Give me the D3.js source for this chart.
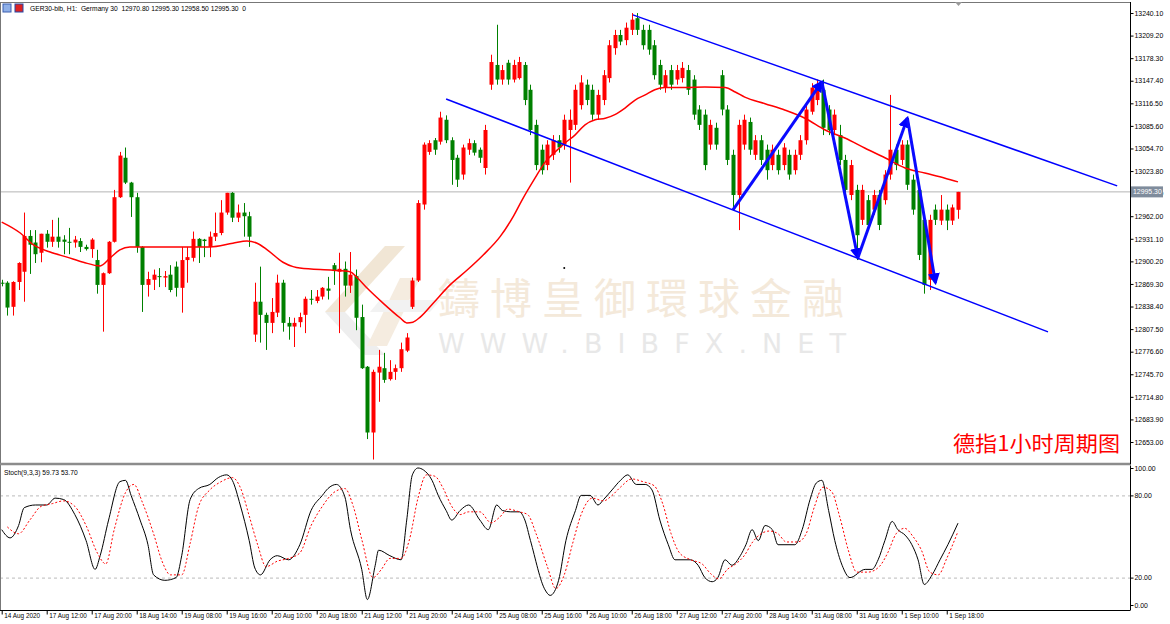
<!DOCTYPE html>
<html>
<head>
<meta charset="utf-8">
<script src="https://cdn.jsdelivr.net/npm/d3@7"></script>
<style>
body { margin: 0; background: #fff; }
svg { display: block; font-family: "Liberation Sans", Arial, sans-serif; }
</style>
</head>
<body>
<svg width="1170" height="624"></svg>
<script>
// H1 candles, [open, high, low, close], bar 0 = 14 Aug 2020
const candles = [
  [12871,12875,12866,12870],[12871,12873,12826,12837],[12838,12873,12826,12872],[12872,12899,12861,12898],[12886,12967,12845,12935],
  [12935,12943,12883,12923],[12926,12943,12898,12910],[12912,12938,12899,12938],[12938,12943,12919,12927],[12927,12957,12920,12934],
  [12934,12960,12919,12927],[12930,12936,12910,12927],[12927,12946,12910,12926],[12926,12935,12919,12930],[12928,12932,12913,12920],
  [12920,12923,12915,12917],[12917,12932,12905,12930],[12902,12916,12856,12868],[12868,12885,12804,12884],[12884,12928,12883,12927],
  [12927,12998,12926,12988],[12988,13050,12987,13045],[13042,13056,13006,13008],[13008,13009,12961,12988],[12988,12994,12912,12920],
  [12920,12921,12831,12868],[12868,12886,12852,12876],[12875,12889,12861,12882],[12880,12891,12865,12879],[12878,12887,12865,12880],
  [12882,12895,12858,12861],[12893,12900,12852,12864],[12864,12920,12830,12902],[12902,12920,12871,12906],[12905,12941,12900,12931],
  [12931,12932,12898,12920],[12930,12931,12906,12928],[12920,12941,12906,12934],[12934,12967,12928,12939],[12939,12984,12936,12967],
  [12967,12994,12964,12994],[12994,12995,12954,12960],[12960,12978,12954,12967],[12967,12980,12934,12962],[12962,12968,12920,12934],
  [12800,12871,12790,12845],[12845,12893,12789,12827],[12827,12830,12779,12816],[12816,12850,12802,12831],[12830,12882,12824,12871],
  [12871,12875,12804,12816],[12816,12824,12793,12811],[12811,12823,12783,12816],[12817,12830,12810,12824],[12827,12852,12802,12849],
  [12849,12861,12841,12848],[12846,12861,12843,12852],[12852,12865,12848,12864],[12863,12879,12848,12860],[12895,12898,12868,12887],
  [12886,12912,12802,12890],[12890,12900,12852,12867],[12867,12913,12857,12882],[12880,12889,12806,12823],[12824,12841,12753,12754],
  [12756,12757,12657,12666],[12666,12752,12629,12749],[12748,12779,12708,12756],[12754,12775,12734,12738],[12739,12765,12737,12749],
  [12749,12759,12738,12754],[12754,12789,12749,12780],[12778,12802,12776,12796],[12838,12878,12835,12874],[12874,12984,12872,12980],
  [12978,13063,12971,13060],[13050,13066,13046,13062],[13066,13069,13046,13053],[13064,13105,13060,13097],[13094,13100,13062,13066],
  [13066,13070,13005,13039],[13042,13046,13002,13012],[13019,13060,13012,13056],[13053,13068,13046,13062],[13062,13066,13045,13049],
  [13053,13056,13035,13042],[13028,13087,13019,13080],[13142,13183,13135,13173],[13169,13224,13142,13149],[13149,13169,13142,13162],
  [13172,13176,13142,13149],[13149,13176,13145,13169],[13151,13180,13149,13173],[13169,13173,13114,13121],[13135,13142,13073,13080],
  [13087,13094,13025,13032],[13053,13060,13019,13025],[13032,13066,13025,13060],[13046,13073,13039,13066],[13066,13073,13049,13056],
  [13060,13101,13053,13094],[13080,13108,13008,13094],[13087,13142,13080,13135],[13114,13155,13108,13145],[13142,13149,13114,13121],
  [13135,13142,13094,13101],[13101,13135,13094,13128],[13121,13162,13114,13155],[13151,13203,13145,13196],[13192,13217,13183,13210],
  [13210,13217,13196,13201],[13203,13227,13196,13220],[13217,13240,13210,13231],[13233,13240,13210,13217],[13217,13224,13190,13196],
  [13217,13224,13183,13190],[13196,13203,13149,13155],[13169,13176,13135,13142],[13138,13162,13131,13155],[13162,13169,13135,13142],
  [13149,13169,13142,13162],[13151,13173,13145,13165],[13162,13169,13128,13135],[13149,13155,13094,13101],[13108,13114,13080,13087],
  [13101,13108,13025,13032],[13060,13094,13053,13087],[13083,13090,13053,13060],[13155,13162,13100,13108],[13108,13114,13032,13039],
  [13046,13053,12971,12991],[12991,13094,12943,13087],[13060,13101,13053,13094],[13091,13097,13046,13053],[13046,13073,13039,13066],
  [13066,13073,13032,13039],[13053,13060,13012,13025],[13032,13060,13025,13053],[13046,13053,13019,13025],[13032,13062,13025,13056],
  [13046,13053,13012,13019],[13025,13053,13019,13046],[13046,13073,13039,13066],[13066,13114,13060,13108],[13105,13144,13101,13138],
  [13121,13149,13114,13142],[13135,13149,13073,13083],[13108,13114,13073,13080],[13080,13108,13073,13101],[13073,13087,13032,13039],
  [13039,13046,12991,12998],[12991,13039,12984,13032],[12998,13005,12902,12936],[12957,13005,12950,12998],[12984,12991,12943,12950],
  [12971,12998,12964,12991],[12991,12998,12943,12950],[12984,13025,12978,13019],[13019,13128,13012,13053],[13053,13060,13025,13032],
  [13039,13066,13032,13060],[13060,13066,12998,13005],[13012,13019,12964,12971],[12998,13005,12902,12909],[12957,12964,12856,12868],
  [12875,12964,12861,12957],[12971,12978,12950,12957],[12956,12991,12950,12971],[12971,12978,12943,12956],[12956,12978,12950,12974],
  [12970.8,12995.3,12958.5,12995.3]
]

// moving average: [bar, price]
const maLine = [
  [0,12954],[3.3,12939],[5.6,12923],[8.6,12913],[11.6,12906],[14.5,12899],[17.5,12894],[19.3,12905],[21,12916],[22.8,12920],
  [26.4,12920],[31.7,12920],[37,12920],[41.1,12925],[43.6,12928],[45.4,12925],[47.2,12916],[50,12899],[51.8,12893],[53,12891],
  [58.9,12888],[61.9,12886],[63.3,12877],[64.9,12864],[67.8,12843],[70.8,12823],[72,12816],[73.1,12817],[74.4,12824],[76.7,12843],
  [79.7,12868],[82.7,12888],[85.6,12909],[88.6,12934],[90.9,12961],[92.5,12984],[94.8,13014],[96.6,13036],[98.4,13050],[100.1,13062],
  [101.9,13073],[103.7,13087],[105.5,13094],[107.3,13096],[109,13101],[110.8,13110],[112.6,13121],[114.4,13128],[116.1,13135],[117.9,13138],
  [121.5,13138],[125,13139],[128.6,13138],[130.4,13132],[132.1,13125],[135.7,13116],[139.3,13107],[142.8,13096],[146.4,13080],[149.9,13069],
  [153.5,13055],[157,13042],[160.6,13028],[164.1,13021],[167.7,13014],[170,13009]
]

// Stoch(9,3,3): [bar, value]
const stochK = [
  [0,55],[1.5,49],[3,58],[4,71],[6,73],[8,73],[9.5,78],[11,77],[13,66],[15,47],[16.6,26],[17.5,36],[19,62],[21,90],[22,91],
  [23,80],[24.6,62],[26,44],[27,22],[29,18],[31,20],[32,36],[33.5,77],[35,85],[37,88],[38.5,93],[40,95],[41,91],[42.4,73],[44,47],
  [45,27],[46,22],[47.7,33],[49,36],[51,33],[53,44],[55,69],[57,80],[58,85],[59.5,88],[61,79],[62,55],[64,26],[65,4],[66.4,29],
  [67,40],[69,36],[71,33],[72,62],[73,95],[74,100],[75,98.5],[76.5,91],[77.6,80],[79,69],[80,62],[81.5,69],[83,73],[85,62],[86.5,55],
  [88,73],[89,69],[90.5,68],[92,68],[93,62],[94,47],[96.6,11],[97.5,7],[99,18],[100.3,47],[102,69],[103,80],[104.6,80],[106,73],
  [107,77],[108.5,84],[110,91],[111.3,95],[112.8,88],[114.4,88],[115.6,84],[117,62],[118.5,44],[119.7,33],[122.4,33],[123.8,29],
  [125,20],[126.3,17],[127.3,20],[128.6,33],[129.8,29],[131.3,36],[132.3,44],[133.4,55],[134.5,47],[135.7,58],[137,55],[138,44],
  [141,44],[142.3,55],[143.7,77],[144.8,89],[145.8,91],[147,69],[148.1,47],[149.4,29],[150.8,20],[153.5,26],[154.7,26],[155.8,33],
  [157,47],[158.3,61],[159.3,55],[160.6,51],[161.8,44],[162.9,33],[164,15],[165.4,22],[166.8,33],[168.2,44],[170,59.73]
]
const stochD = [
  [1,57],[3,52],[5,62],[7,72],[9,74],[11,76],[13,72],[15,58],[17,38],[18.5,30],[20,55],[22,82],[23.5,88],[25,75],[27,52],
  [28.5,32],[30,22],[32,22],[33.5,45],[35,72],[37,84],[39,90],[41,93],[42.5,85],[44,65],[45.5,44],[47,28],[49,32],[51,34],[53,38],
  [55,58],[57,72],[59,82],[61,85],[62.5,72],[64,48],[66,20],[67.5,26],[69,34],[71,34],[72.5,48],[74,78],[75.5,95],[77,94],[78.5,85],
  [80,72],[81.5,66],[83,68],[85,68],[87,60],[88.5,64],[90,70],[92,68],[93.5,66],[95,52],[97,28],[98.5,12],[100,22],[101.5,45],[103,66],
  [105,78],[107,76],[108.5,80],[110,86],[112,92],[114,90],[116,87],[117.5,74],[119,52],[120.5,38],[122.5,33],[124.5,30],[126,23],[127.5,19],
  [129,26],[130.5,30],[132,36],[133.5,46],[135,52],[136.5,54],[138,52],[139.5,46],[141.5,46],[143,52],[144.5,72],[146,86],[147.5,83],[149,64],
  [150.5,40],[152,24],[154,24],[156,28],[157.5,38],[159,52],[160.5,56],[162,50],[163.5,40],[165,24],[166.5,22],[168,34],[170,53.7]
]

const priceTicks = [13240.1,13209.2,13178.3,13147.4,13116.5,13085.6,13054.7,13023.8,12992.9,12962.0,
  12931.1,12900.2,12869.3,12838.4,12807.5,12776.6,12745.7,12714.8,12683.9,12653.0]
const stochTicks = [100, 80, 20, 0]
const stochLevels = [80, 20]
const dateLabels = ['14 Aug 2020','17 Aug 12:00','17 Aug 20:00','18 Aug 14:00','19 Aug 08:00','19 Aug 16:00','20 Aug 10:00',
  '20 Aug 18:00','21 Aug 12:00','21 Aug 20:00','24 Aug 14:00','25 Aug 08:00','25 Aug 16:00','26 Aug 10:00','26 Aug 18:00',
  '27 Aug 12:00','27 Aug 20:00','28 Aug 14:00','31 Aug 08:00','31 Aug 16:00','1 Sep 10:00','1 Sep 18:00']
const barsPerLabel = 8
const lastPrice = 12995.3

// hand-drawn objects: [bar, price]
const channelUpper = [[112.2,13237.5],[198.3,13003.5]]
const channelLower = [[79,13122.5],[186,12803.7]]
const zigzag = [[130,12970.6],[145.8,13145.8],[152.2,12905],[161,13096.5],[166,12870.7]]

const svg = d3.select('svg')
const axisX = 1130
const mainTop = 2, mainBottom = 464, stTop = 466, stBottom = 610
const small = 6.7

const x = d3.scaleLinear().domain([0, 170]).range([1.7, 958])
const y = d3.scaleLinear().domain([12653, 13240.1]).range([442, 13])
const ys = d3.scaleLinear().domain([0, 100]).range([605, 468])

const up = '#ff0000', down = '#008000'

svg.append('defs').html(`
  <clipPath id="mainClip"><rect x="0" y="${mainTop}" width="${axisX}" height="${mainBottom - mainTop}"/></clipPath>
  <clipPath id="stClip"><rect x="0" y="${stTop}" width="${axisX}" height="${stBottom - stTop}"/></clipPath>
  <marker id="arr" viewBox="0 0 10 10" refX="8" refY="5" markerWidth="4" markerHeight="4" orient="auto">
    <path d="M0,0 L10,5 L0,10 Z" fill="#0000ff"/>
  </marker>`)

// watermark
const wm = svg.append('g')
const logo = [
  {pts: [[385,246],[405,246],[345,312],[325,312]], fill: '#f1e6d5'},
  {pts: [[325,312],[345,312],[385,355],[365,355]], fill: '#eeeeee'},
  {pts: [[400,278],[420,278],[387,346],[367,346]], fill: '#f5ece0'},
  {pts: [[380,300],[440,300],[430,312],[370,312]], fill: '#f2f2f2'}
]
wm.selectAll('polygon').data(logo).enter().append('polygon')
  .attr('points', d => d.pts.join(' ')).attr('fill', d => d.fill)
wm.append('text').attr('x', 438).attr('y', 314).attr('textLength', 406).attr('lengthAdjust', 'spacing')
  .attr('font-family', '"Noto Sans CJK TC", "Noto Sans CJK SC", sans-serif').attr('font-size', 42)
  .attr('fill', '#f4e9da').text('鑄博皇御環球金融')
wm.append('text').attr('x', 438).attr('y', 353).attr('textLength', 408).attr('lengthAdjust', 'spacing')
  .attr('font-family', '"DejaVu Sans", sans-serif').attr('font-size', 27)
  .attr('fill', '#e8e8e8').text('WWW.BIBFX.NET')

const main = svg.append('g').attr('clip-path', 'url(#mainClip)')

// last price line
main.append('line').attr('x1', 0).attr('x2', axisX).attr('y1', y(lastPrice)).attr('y2', y(lastPrice))
  .attr('stroke', '#b4b4b4').attr('stroke-width', 1)

// candles
const cg = main.selectAll('.candle').data(candles).enter().append('g').attr('class', 'candle')
cg.append('line')
  .attr('x1', (d, i) => Math.round(x(i)) + 0.5).attr('x2', (d, i) => Math.round(x(i)) + 0.5)
  .attr('y1', d => y(d[1])).attr('y2', d => y(d[2]))
  .attr('stroke', d => d[3] >= d[0] ? up : down).attr('stroke-width', 1)
cg.append('rect')
  .attr('x', (d, i) => Math.round(x(i)) - 1.5).attr('width', 4)
  .attr('y', d => y(Math.max(d[0], d[3])))
  .attr('height', d => Math.max(1, Math.abs(y(d[0]) - y(d[3]))))
  .attr('fill', d => d[3] >= d[0] ? up : down)

// moving average
main.append('path').datum(maLine)
  .attr('d', d3.line().x(d => x(d[0])).y(d => y(d[1])).curve(d3.curveMonotoneX))
  .attr('fill', 'none').attr('stroke', '#ff0000').attr('stroke-width', 1.5)

// stray dot
main.append('circle').attr('cx', x(100)).attr('cy', y(12891)).attr('r', 1).attr('fill', '#000')

// channel + zigzag
const line = d3.line().x(d => x(d[0])).y(d => y(d[1]))
;[channelUpper, channelLower].forEach(c => {
  main.append('path').attr('d', line(c)).attr('stroke', '#0000ff').attr('stroke-width', 1.5).attr('fill', 'none')
})
d3.pairs(zigzag).forEach(p => {
  main.append('path').attr('d', line(p)).attr('stroke', '#0a0aff').attr('stroke-width', 3)
    .attr('fill', 'none').attr('marker-end', 'url(#arr)')
})

// caption
svg.append('text').attr('x', 953).attr('y', 451).attr('textLength', 167).attr('lengthAdjust', 'spacingAndGlyphs')
  .attr('font-family', '"Noto Sans CJK SC", sans-serif').attr('font-size', 21).attr('fill', '#ff0000')
  .text('德指1小时周期图')

// stochastic panel
const st = svg.append('g').attr('clip-path', 'url(#stClip)')
st.selectAll('.lvl').data(stochLevels).enter().append('line')
  .attr('x1', 0).attr('x2', axisX).attr('y1', d => ys(d) + 0.5).attr('y2', d => ys(d) + 0.5)
  .attr('stroke', '#bbbbbb').attr('stroke-dasharray', '3,3')
st.append('path').datum(stochK)
  .attr('d', d3.line().x(d => x(d[0])).y(d => ys(d[1])).curve(d3.curveMonotoneX))
  .attr('fill', 'none').attr('stroke', '#000').attr('stroke-width', 1)
st.append('path').datum(stochD)
  .attr('d', d3.line().x(d => x(d[0])).y(d => ys(d[1])).curve(d3.curveMonotoneX))
  .attr('fill', 'none').attr('stroke', '#ff0000').attr('stroke-width', 1).attr('stroke-dasharray', '2,2')
svg.append('text').attr('x', 4).attr('y', 475).attr('font-size', small).attr('fill', '#000')
  .text('Stoch(9,3,3) 59.73 53.70')

// frames
svg.append('rect').attr('x', 0.5).attr('y', mainTop + 0.5).attr('width', axisX).attr('height', stBottom - mainTop)
  .attr('fill', 'none').attr('stroke', '#777')
svg.append('line').attr('x1', 0).attr('x2', axisX).attr('y1', mainBottom).attr('y2', mainBottom)
  .attr('stroke', '#8c8c8c').attr('stroke-width', 2.5)
svg.append('line').attr('x1', 0).attr('x2', axisX).attr('y1', stBottom + 0.5).attr('y2', stBottom + 0.5)
  .attr('stroke', '#000')

// price axis
const pAxis = svg.append('g').attr('transform', `translate(${axisX + 0.5},0)`)
  .call(d3.axisRight(y).tickValues(priceTicks).tickSize(3).tickPadding(1).tickFormat(d3.format('.2f')))
pAxis.select('.domain').attr('stroke', '#000').attr('d', `M0,${mainTop}V${mainBottom}`)
pAxis.selectAll('text').attr('font-size', 6.9).attr('font-family', '"Liberation Sans", Arial, sans-serif').attr('fill', '#000')

// last price tag
svg.append('rect').attr('x', axisX + 1).attr('y', y(lastPrice) - 5.5).attr('width', 32).attr('height', 11).attr('fill', '#7f8c9c')
svg.append('text').attr('x', axisX + 3).attr('y', y(lastPrice) + 2.5).attr('font-size', 6.9).attr('fill', '#fff')
  .text(d3.format('.2f')(lastPrice))

// stoch axis
const sAxis = svg.append('g').attr('transform', `translate(${axisX + 0.5},0)`)
  .call(d3.axisRight(ys).tickValues(stochTicks).tickSize(3).tickPadding(1).tickFormat(d3.format('.2f')))
sAxis.select('.domain').attr('stroke', '#000').attr('d', `M0,${stTop}V${stBottom}`)
sAxis.selectAll('text').attr('font-size', 6.9).attr('font-family', '"Liberation Sans", Arial, sans-serif').attr('fill', '#000')

// time axis
const tAxis = svg.append('g').attr('transform', `translate(0,${stBottom + 0.5})`)
  .call(d3.axisBottom(x).tickValues(dateLabels.map((d, i) => i * barsPerLabel)).tickSize(4)
    .tickFormat((d, i) => dateLabels[i]))
tAxis.select('.domain').remove()
tAxis.selectAll('.tick line').attr('stroke', '#000')
tAxis.selectAll('text').attr('font-size', 6.4).attr('font-family', '"Liberation Sans", Arial, sans-serif')
  .attr('text-anchor', 'start').attr('x', 2).attr('y', 3).attr('fill', '#000')

// header
const hdr = svg.append('g')
hdr.append('rect').attr('x', 3).attr('y', 4).attr('width', 8).attr('height', 8).attr('fill', '#8fb0e8').attr('stroke', '#3b5fb0')
hdr.append('rect').attr('x', 15).attr('y', 4).attr('width', 8).attr('height', 8).attr('fill', '#d22').attr('stroke', '#2448a8')
hdr.append('text').attr('x', 30).attr('y', 11).attr('font-size', small).attr('fill', '#000')
  .style('white-space', 'pre').text('GER30-bib, H1:  Germany 30  12970.80 12995.30 12958.50 12995.30  0')
hdr.append('path').attr('d', `M${x(170) - 3},${mainTop} h7 l-3.5,4 z`).attr('fill', '#999')
</script>
</body>
</html>
